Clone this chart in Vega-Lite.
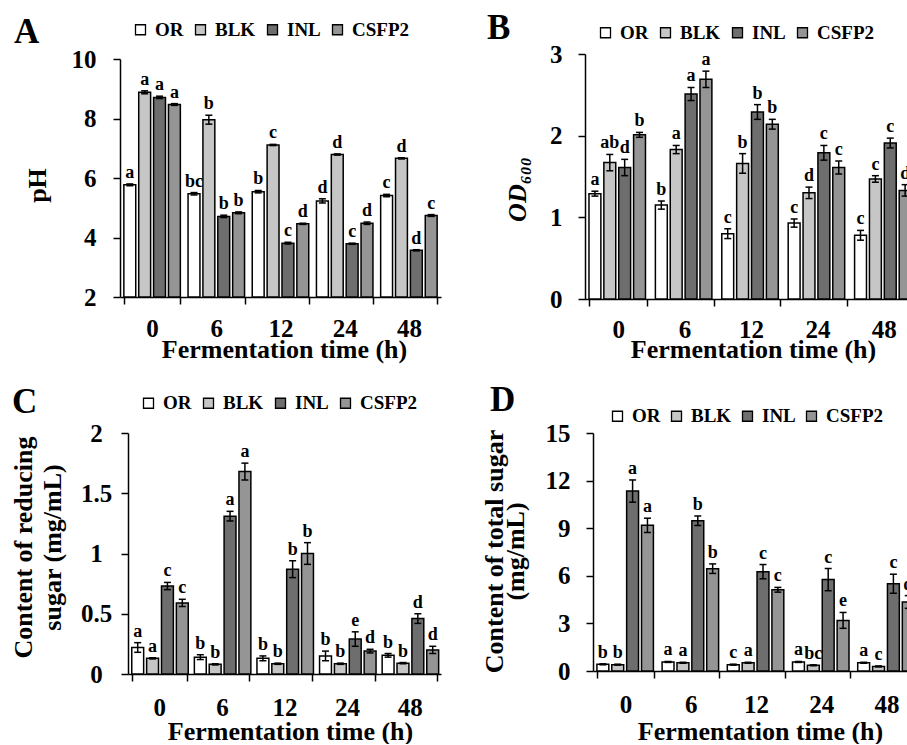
{
"$schema": "https://vega.github.io/schema/vega-lite/v6.json",
"padding": {"left": 9, "top": 11, "right": 0, "bottom": 0},
"config": {
 "font": "Liberation Serif",
 "view": {"stroke": null},
 "axis": {"grid": false, "domainColor": "#000", "domainWidth": 1.5, "tickColor": "#000", "tickWidth": 1.5, "tickSize": 7, "labelColor": "#000", "labelFont": "Liberation Serif", "labelFontSize": 25, "labelFontWeight": "bold", "titleColor": "#000", "titleFont": "Liberation Serif", "titleFontSize": 26, "titleFontWeight": "bold", "labelOverlap": false, "labelFlush": false},
 "legend": {"orient": "none", "direction": "horizontal", "symbolType": "square", "symbolSize": 100, "symbolStrokeColor": "#000", "symbolStrokeWidth": 1.3, "labelFont": "Liberation Serif", "labelFontSize": 19, "labelFontWeight": "bold", "labelColor": "#000", "labelOffset": 5, "columnPadding": 7, "padding": 0},
 "title": {"font": "Liberation Serif", "fontSize": 35, "fontWeight": "bold", "color": "#000", "anchor": "start", "frame": "group", "offset": 0},
 "tick": {"opacity": 1},
 "rule": {"opacity": 1}
},
"datasets": {
 "ph": [
  {"t":"0","g":"OR","v":5.77,"lo":5.74,"hi":5.80,"lab":"a"},
  {"t":"0","g":"BLK","v":8.88,"lo":8.83,"hi":8.93,"lab":"a"},
  {"t":"0","g":"INL","v":8.71,"lo":8.67,"hi":8.75,"lab":"a"},
  {"t":"0","g":"CSFP2","v":8.47,"lo":8.44,"hi":8.50,"lab":"a"},
  {"t":"6","g":"OR","v":5.47,"lo":5.43,"hi":5.51,"lab":"bc"},
  {"t":"6","g":"BLK","v":7.96,"lo":7.81,"hi":8.11,"lab":"b"},
  {"t":"6","g":"INL","v":4.71,"lo":4.67,"hi":4.75,"lab":"b"},
  {"t":"6","g":"CSFP2","v":4.83,"lo":4.80,"hi":4.86,"lab":"b"},
  {"t":"12","g":"OR","v":5.54,"lo":5.50,"hi":5.58,"lab":"b"},
  {"t":"12","g":"BLK","v":7.11,"lo":7.09,"hi":7.13,"lab":"c"},
  {"t":"12","g":"INL","v":3.81,"lo":3.78,"hi":3.84,"lab":"c"},
  {"t":"12","g":"CSFP2","v":4.46,"lo":4.44,"hi":4.48,"lab":"d"},
  {"t":"24","g":"OR","v":5.23,"lo":5.16,"hi":5.30,"lab":"d"},
  {"t":"24","g":"BLK","v":6.79,"lo":6.77,"hi":6.81,"lab":"d"},
  {"t":"24","g":"INL","v":3.79,"lo":3.77,"hi":3.81,"lab":"c"},
  {"t":"24","g":"CSFP2","v":4.48,"lo":4.44,"hi":4.52,"lab":"d"},
  {"t":"48","g":"OR","v":5.41,"lo":5.37,"hi":5.45,"lab":"c"},
  {"t":"48","g":"BLK","v":6.66,"lo":6.64,"hi":6.68,"lab":"d"},
  {"t":"48","g":"INL","v":3.57,"lo":3.55,"hi":3.59,"lab":"d"},
  {"t":"48","g":"CSFP2","v":4.74,"lo":4.71,"hi":4.77,"lab":"c"}
 ],
 "od": [
  {"t":"0","g":"OR","v":1.29,"lo":1.26,"hi":1.32,"lab":"a"},
  {"t":"0","g":"BLK","v":1.67,"lo":1.57,"hi":1.77,"lab":"ab"},
  {"t":"0","g":"INL","v":1.61,"lo":1.51,"hi":1.71,"lab":"d"},
  {"t":"0","g":"CSFP2","v":2.01,"lo":1.98,"hi":2.04,"lab":"b"},
  {"t":"6","g":"OR","v":1.15,"lo":1.10,"hi":1.20,"lab":"b"},
  {"t":"6","g":"BLK","v":1.83,"lo":1.78,"hi":1.88,"lab":"a"},
  {"t":"6","g":"INL","v":2.51,"lo":2.43,"hi":2.59,"lab":"a"},
  {"t":"6","g":"CSFP2","v":2.69,"lo":2.59,"hi":2.79,"lab":"a"},
  {"t":"12","g":"OR","v":0.80,"lo":0.74,"hi":0.86,"lab":"c"},
  {"t":"12","g":"BLK","v":1.66,"lo":1.54,"hi":1.78,"lab":"b"},
  {"t":"12","g":"INL","v":2.29,"lo":2.20,"hi":2.38,"lab":"b"},
  {"t":"12","g":"CSFP2","v":2.14,"lo":2.08,"hi":2.20,"lab":"b"},
  {"t":"24","g":"OR","v":0.93,"lo":0.88,"hi":0.98,"lab":"c"},
  {"t":"24","g":"BLK","v":1.30,"lo":1.23,"hi":1.37,"lab":"d"},
  {"t":"24","g":"INL","v":1.79,"lo":1.70,"hi":1.88,"lab":"c"},
  {"t":"24","g":"CSFP2","v":1.61,"lo":1.53,"hi":1.69,"lab":"c"},
  {"t":"48","g":"OR","v":0.78,"lo":0.72,"hi":0.84,"lab":"c"},
  {"t":"48","g":"BLK","v":1.47,"lo":1.43,"hi":1.51,"lab":"c"},
  {"t":"48","g":"INL","v":1.91,"lo":1.85,"hi":1.97,"lab":"c"},
  {"t":"48","g":"CSFP2","v":1.33,"lo":1.26,"hi":1.40,"lab":"d"}
 ],
 "rs": [
  {"t":"0","g":"OR","v":0.22,"lo":0.18,"hi":0.26,"lab":"a"},
  {"t":"0","g":"BLK","v":0.13,"lo":0.125,"hi":0.135,"lab":"a"},
  {"t":"0","g":"INL","v":0.73,"lo":0.70,"hi":0.76,"lab":"c"},
  {"t":"0","g":"CSFP2","v":0.59,"lo":0.56,"hi":0.62,"lab":"c"},
  {"t":"6","g":"OR","v":0.14,"lo":0.12,"hi":0.16,"lab":"b"},
  {"t":"6","g":"BLK","v":0.08,"lo":0.075,"hi":0.085,"lab":"b"},
  {"t":"6","g":"INL","v":1.31,"lo":1.27,"hi":1.35,"lab":"a"},
  {"t":"6","g":"CSFP2","v":1.68,"lo":1.61,"hi":1.75,"lab":"a"},
  {"t":"12","g":"OR","v":0.13,"lo":0.11,"hi":0.15,"lab":"b"},
  {"t":"12","g":"BLK","v":0.085,"lo":0.08,"hi":0.09,"lab":"b"},
  {"t":"12","g":"INL","v":0.87,"lo":0.80,"hi":0.94,"lab":"b"},
  {"t":"12","g":"CSFP2","v":1.00,"lo":0.91,"hi":1.09,"lab":"b"},
  {"t":"24","g":"OR","v":0.15,"lo":0.11,"hi":0.19,"lab":"b"},
  {"t":"24","g":"BLK","v":0.085,"lo":0.08,"hi":0.09,"lab":"b"},
  {"t":"24","g":"INL","v":0.29,"lo":0.23,"hi":0.35,"lab":"e"},
  {"t":"24","g":"CSFP2","v":0.19,"lo":0.175,"hi":0.205,"lab":"d"},
  {"t":"48","g":"OR","v":0.155,"lo":0.14,"hi":0.17,"lab":"b"},
  {"t":"48","g":"BLK","v":0.09,"lo":0.085,"hi":0.095,"lab":"b"},
  {"t":"48","g":"INL","v":0.46,"lo":0.42,"hi":0.50,"lab":"d"},
  {"t":"48","g":"CSFP2","v":0.20,"lo":0.17,"hi":0.23,"lab":"d"}
 ],
 "ts": [
  {"t":"0","g":"OR","v":0.42,"lo":0.39,"hi":0.45,"lab":"b"},
  {"t":"0","g":"BLK","v":0.40,"lo":0.37,"hi":0.43,"lab":"b"},
  {"t":"0","g":"INL","v":11.34,"lo":10.64,"hi":12.04,"lab":"a"},
  {"t":"0","g":"CSFP2","v":9.18,"lo":8.73,"hi":9.63,"lab":"a"},
  {"t":"6","g":"OR","v":0.57,"lo":0.54,"hi":0.60,"lab":"a"},
  {"t":"6","g":"BLK","v":0.52,"lo":0.49,"hi":0.55,"lab":"a"},
  {"t":"6","g":"INL","v":9.47,"lo":9.17,"hi":9.77,"lab":"b"},
  {"t":"6","g":"CSFP2","v":6.45,"lo":6.15,"hi":6.75,"lab":"b"},
  {"t":"12","g":"OR","v":0.40,"lo":0.37,"hi":0.43,"lab":"c"},
  {"t":"12","g":"BLK","v":0.52,"lo":0.49,"hi":0.55,"lab":"a"},
  {"t":"12","g":"INL","v":6.26,"lo":5.81,"hi":6.71,"lab":"c"},
  {"t":"12","g":"CSFP2","v":5.12,"lo":4.97,"hi":5.27,"lab":"c"},
  {"t":"24","g":"OR","v":0.57,"lo":0.54,"hi":0.60,"lab":"a"},
  {"t":"24","g":"BLK","v":0.36,"lo":0.33,"hi":0.39,"lab":"bc"},
  {"t":"24","g":"INL","v":5.76,"lo":5.06,"hi":6.46,"lab":"c"},
  {"t":"24","g":"CSFP2","v":3.19,"lo":2.69,"hi":3.69,"lab":"e"},
  {"t":"48","g":"OR","v":0.52,"lo":0.49,"hi":0.55,"lab":"a"},
  {"t":"48","g":"BLK","v":0.29,"lo":0.26,"hi":0.32,"lab":"c"},
  {"t":"48","g":"INL","v":5.50,"lo":4.90,"hi":6.10,"lab":"c"},
  {"t":"48","g":"CSFP2","v":4.35,"lo":3.95,"hi":4.75,"lab":"d"}
 ]
},
"columns": 1,
"align": "none",
"spacing": 20,
"resolve": {"scale": {"fill": "independent"}, "legend": {"fill": "independent"}},
"concat": [
 {
  "columns": 2,
  "align": "none",
  "spacing": 46,
  "resolve": {"scale": {"fill": "independent"}, "legend": {"fill": "independent"}},
  "concat": [
   {
    "width": 321, "height": 243,
    "title": {"text": "A", "dx": -106, "dy": 34},
    "data": {"name": "ph"},
    "encoding": {
     "x": {"field": "t", "type": "nominal", "sort": ["0","6","12","24","48"], "scale": {"paddingInner": 0.12, "paddingOuter": 0.06}, "axis": {"title": "Fermentation time (h)", "labelAngle": 0, "tickBand": "extent", "labelBaseline": "alphabetic", "labelPadding": 32, "titleBaseline": "alphabetic", "titleY": 60, "titleX": 164}},
     "xOffset": {"field": "g", "type": "nominal", "sort": ["OR","BLK","INL","CSFP2"], "scale": {"paddingInner": 0.2}}
    },
    "layer": [
     {"mark": {"type": "bar", "stroke": "#000", "strokeWidth": 1.5},
      "encoding": {
       "y": {"field": "v", "type": "quantitative", "scale": {"domain": [2,10], "nice": false, "zero": false, "range": [243, 5]}, "axis": {"title": "pH", "values": [2,4,6,8,10], "labelPadding": 17, "titleX": -75, "titleY": 131, "titleBaseline": "alphabetic"}},
       "y2": {"datum": 2},
       "fill": {"field": "g", "type": "nominal", "sort": ["OR","BLK","INL","CSFP2"], "scale": {"domain": ["OR","BLK","INL","CSFP2"], "range": ["#ffffff","#c6c6c6","#6e6e6e","#959595"]}, "legend": {"title": null, "legendX": 11, "legendY": -34}}
      }},
     {"mark": {"type": "rule", "color": "#000", "strokeWidth": 1.5},
      "encoding": {"y": {"field": "lo", "type": "quantitative", "title": "pH", "scale": {"domain": [2,10], "nice": false, "zero": false, "range": [243, 5]}}, "y2": {"field": "hi"}}},
     {"mark": {"type": "tick", "color": "#000", "size": 7, "thickness": 1.5},
      "encoding": {"y": {"field": "hi", "type": "quantitative", "title": "pH", "scale": {"domain": [2,10], "nice": false, "zero": false, "range": [243, 5]}}}},
     {"mark": {"type": "tick", "color": "#000", "size": 7, "thickness": 1.5},
      "encoding": {"y": {"field": "lo", "type": "quantitative", "title": "pH", "scale": {"domain": [2,10], "nice": false, "zero": false, "range": [243, 5]}}}},
     {"mark": {"type": "text", "dy": -6, "baseline": "alphabetic", "fontSize": 18, "fontWeight": "bold", "font": "Liberation Serif", "color": "#000"},
      "encoding": {"y": {"field": "hi", "type": "quantitative", "title": "pH", "scale": {"domain": [2,10], "nice": false, "zero": false, "range": [243, 5]}}, "text": {"field": "lab"}}}
    ]
   },
   {
    "width": 332, "height": 245,
    "title": {"text": "B", "dx": -98, "dy": 27},
    "data": {"name": "od"},
    "encoding": {
     "x": {"field": "t", "type": "nominal", "sort": ["0","6","12","24","48"], "scale": {"paddingInner": 0.12, "paddingOuter": 0.06}, "axis": {"title": "Fermentation time (h)", "labelAngle": 0, "tickBand": "extent", "labelBaseline": "alphabetic", "labelPadding": 31, "titleBaseline": "alphabetic", "titleY": 58, "titleX": 168}},
     "xOffset": {"field": "g", "type": "nominal", "sort": ["OR","BLK","INL","CSFP2"], "scale": {"paddingInner": 0.2}}
    },
    "layer": [
     {"mark": {"type": "bar", "stroke": "#000", "strokeWidth": 1.5},
      "encoding": {
       "y": {"field": "v", "type": "quantitative", "scale": {"domain": [0,3], "nice": false}, "axis": {"title": "OD₆₀₀", "titleFontStyle": "italic", "values": [0,1,2,3], "format": "~g", "labelPadding": 16, "titleX": -60, "titleY": 135, "titleBaseline": "alphabetic"}},
       "fill": {"field": "g", "type": "nominal", "sort": ["OR","BLK","INL","CSFP2"], "scale": {"domain": ["OR","BLK","INL","CSFP2"], "range": ["#ffffff","#c6c6c6","#6e6e6e","#959595"]}, "legend": {"title": null, "legendX": 11, "legendY": -31}}
      }},
     {"mark": {"type": "rule", "color": "#000", "strokeWidth": 1.5},
      "encoding": {"y": {"field": "lo", "type": "quantitative", "title": "OD₆₀₀", "scale": {"domain": [0,3], "nice": false}}, "y2": {"field": "hi"}}},
     {"mark": {"type": "tick", "color": "#000", "size": 7, "thickness": 1.5},
      "encoding": {"y": {"field": "hi", "type": "quantitative", "title": "OD₆₀₀", "scale": {"domain": [0,3], "nice": false}}}},
     {"mark": {"type": "tick", "color": "#000", "size": 7, "thickness": 1.5},
      "encoding": {"y": {"field": "lo", "type": "quantitative", "title": "OD₆₀₀", "scale": {"domain": [0,3], "nice": false}}}},
     {"mark": {"type": "text", "dy": -6, "baseline": "alphabetic", "fontSize": 18, "fontWeight": "bold", "font": "Liberation Serif", "color": "#000"},
      "encoding": {"y": {"field": "hi", "type": "quantitative", "title": "OD₆₀₀", "scale": {"domain": [0,3], "nice": false}}, "text": {"field": "lab"}}}
    ]
   }
  ]
 },
 {
  "columns": 2,
  "align": "none",
  "spacing": 39,
  "resolve": {"scale": {"fill": "independent"}, "legend": {"fill": "independent"}},
  "concat": [
   {
    "width": 321, "height": 241,
    "title": {"text": "C", "dx": -108, "dy": 30},
    "data": {"name": "rs"},
    "encoding": {
     "x": {"field": "t", "type": "nominal", "sort": ["0","6","12","24","48"], "scale": {"paddingInner": 0.12, "paddingOuter": 0.06, "range": [8, 321]}, "axis": {"title": "Fermentation time (h)", "labelAngle": 0, "tickBand": "extent", "labelBaseline": "alphabetic", "labelPadding": 34, "titleBaseline": "alphabetic", "titleY": 65, "titleX": 170}},
     "xOffset": {"field": "g", "type": "nominal", "sort": ["OR","BLK","INL","CSFP2"], "scale": {"paddingInner": 0.2}}
    },
    "layer": [
     {"mark": {"type": "bar", "stroke": "#000", "strokeWidth": 1.5},
      "encoding": {
       "y": {"field": "v", "type": "quantitative", "scale": {"domain": [0,2], "nice": false}, "axis": {"title": ["Content of reducing", "sugar (mg/mL)"], "offset": -8, "values": [0,0.5,1,1.5,2], "format": "~g", "labelAlign": "center", "labelPadding": 25, "titleX": -97, "titleY": 114, "titleBaseline": "alphabetic", "titleLineHeight": 29}},
       "fill": {"field": "g", "type": "nominal", "sort": ["OR","BLK","INL","CSFP2"], "scale": {"domain": ["OR","BLK","INL","CSFP2"], "range": ["#ffffff","#c6c6c6","#6e6e6e","#959595"]}, "legend": {"title": null, "legendX": 19, "legendY": -39.5}}
      }},
     {"mark": {"type": "rule", "color": "#000", "strokeWidth": 1.5},
      "encoding": {"y": {"field": "lo", "type": "quantitative", "title": ["Content of reducing", "sugar (mg/mL)"], "scale": {"domain": [0,2], "nice": false}}, "y2": {"field": "hi"}}},
     {"mark": {"type": "tick", "color": "#000", "size": 7, "thickness": 1.5},
      "encoding": {"y": {"field": "hi", "type": "quantitative", "title": ["Content of reducing", "sugar (mg/mL)"], "scale": {"domain": [0,2], "nice": false}}}},
     {"mark": {"type": "tick", "color": "#000", "size": 7, "thickness": 1.5},
      "encoding": {"y": {"field": "lo", "type": "quantitative", "title": ["Content of reducing", "sugar (mg/mL)"], "scale": {"domain": [0,2], "nice": false}}}},
     {"mark": {"type": "text", "dy": -6, "baseline": "alphabetic", "fontSize": 18, "fontWeight": "bold", "font": "Liberation Serif", "color": "#000"},
      "encoding": {"y": {"field": "hi", "type": "quantitative", "title": ["Content of reducing", "sugar (mg/mL)"], "scale": {"domain": [0,2], "nice": false}}, "text": {"field": "lab"}}}
    ]
   },
   {
    "width": 326, "height": 238,
    "title": {"text": "D", "dx": -103, "dy": 15},
    "data": {"name": "ts"},
    "encoding": {
     "x": {"field": "t", "type": "nominal", "sort": ["0","6","12","24","48"], "scale": {"paddingInner": 0.12, "paddingOuter": 0.06}, "axis": {"title": "Fermentation time (h)", "labelAngle": 0, "tickBand": "extent", "labelBaseline": "alphabetic", "labelPadding": 34, "titleBaseline": "alphabetic", "titleY": 68, "titleX": 167}},
     "xOffset": {"field": "g", "type": "nominal", "sort": ["OR","BLK","INL","CSFP2"], "scale": {"paddingInner": 0.2}}
    },
    "layer": [
     {"mark": {"type": "bar", "stroke": "#000", "strokeWidth": 1.5},
      "encoding": {
       "y": {"field": "v", "type": "quantitative", "scale": {"domain": [0,15], "nice": false}, "axis": {"title": ["Content of total sugar", "(mg/mL)"], "values": [0,3,6,9,12,15], "labelPadding": 16, "titleX": -91, "titleY": 118, "titleBaseline": "alphabetic", "titleLineHeight": 21}},
       "fill": {"field": "g", "type": "nominal", "sort": ["OR","BLK","INL","CSFP2"], "scale": {"domain": ["OR","BLK","INL","CSFP2"], "range": ["#ffffff","#c6c6c6","#6e6e6e","#959595"]}, "legend": {"title": null, "legendX": 15, "legendY": -26.5, "columnPadding": 6}}
      }},
     {"mark": {"type": "rule", "color": "#000", "strokeWidth": 1.5},
      "encoding": {"y": {"field": "lo", "type": "quantitative", "title": ["Content of total sugar", "(mg/mL)"], "scale": {"domain": [0,15], "nice": false}}, "y2": {"field": "hi"}}},
     {"mark": {"type": "tick", "color": "#000", "size": 7, "thickness": 1.5},
      "encoding": {"y": {"field": "hi", "type": "quantitative", "title": ["Content of total sugar", "(mg/mL)"], "scale": {"domain": [0,15], "nice": false}}}},
     {"mark": {"type": "tick", "color": "#000", "size": 7, "thickness": 1.5},
      "encoding": {"y": {"field": "lo", "type": "quantitative", "title": ["Content of total sugar", "(mg/mL)"], "scale": {"domain": [0,15], "nice": false}}}},
     {"mark": {"type": "text", "dy": -6, "baseline": "alphabetic", "fontSize": 18, "fontWeight": "bold", "font": "Liberation Serif", "color": "#000"},
      "encoding": {"y": {"field": "hi", "type": "quantitative", "title": ["Content of total sugar", "(mg/mL)"], "scale": {"domain": [0,15], "nice": false}}, "text": {"field": "lab"}}}
    ]
   }
  ]
 }
]
}
